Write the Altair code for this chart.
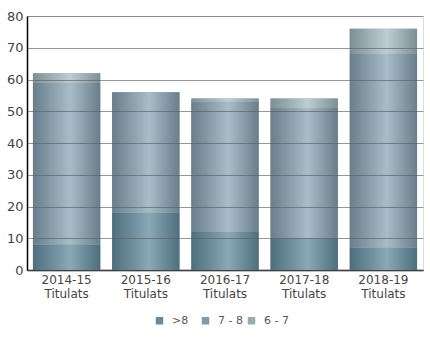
import altair as alt
import pandas as pd

categories = ["2014-15 Titulats", "2015-16 Titulats", "2016-17 Titulats", "2017-18 Titulats", "2018-19 Titulats"]
series = [">8", "7 - 8", "6 - 7"]
v_gt8 = [8, 18, 12, 10, 7]
v_78 = [51, 38, 41, 41, 61]
v_67 = [3, 0, 1, 3, 8]
y_ticks = [0, 10, 20, 30, 40, 50, 60, 70, 80]

edge_colors = ["#4e6e7e", "#687e8a", "#7d8f96"]
center_colors = ["#8aa8b6", "#a8bdc9", "#bccdd3"]
legend_colors = ["#6a8a99", "#8499a5", "#9aabb2"]

rows = []
for i, c in enumerate(categories):
    for s, vals in zip(series, [v_gt8, v_78, v_67]):
        rows.append({"cat": c, "series": s, "value": vals[i], "order": series.index(s)})
df = pd.DataFrame(rows)

FONT = "DejaVu Sans"

x_enc = alt.X("cat:N", sort=categories, title=None,
              scale=alt.Scale(paddingInner=0.15, paddingOuter=0.075),
              axis=alt.Axis(labelExpr="split(datum.label, ' ')", labelAngle=0,
                            labelFont=FONT, labelFontSize=12, labelColor="#444",
                            domainColor="#000", domainWidth=1.5, ticks=False,
                            labelPadding=4, labelLineHeight=14))
y_enc = alt.Y("y0:Q", scale=alt.Scale(domain=[0, 80], nice=False), title=None,
              axis=alt.Axis(values=y_ticks, labelFont=FONT, labelFontSize=13,
                            labelColor="#444", domainColor="#000", domainWidth=1.5,
                            ticks=False, gridColor="#606060", gridOpacity=0.65,
                            zindex=1, labelPadding=4))

base = alt.Chart(df).transform_stack(
    stack="value", groupby=["cat"], sort=[alt.SortField("order")], as_=["y0", "y1"]
)

legend_layer = base.mark_bar().encode(
    x=x_enc, y=y_enc, y2="y1:Q",
    color=alt.Color("series:N", scale=alt.Scale(domain=series, range=legend_colors),
                    sort=series,
                    legend=alt.Legend(title=None, orient="none", direction="horizontal",
                                      legendX=127, legendY=299, symbolType="square",
                                      symbolSize=56, symbolStrokeWidth=0,
                                      labelFont=FONT, labelFontSize=11, labelColor="#555",
                                      labelOffset=7, columnPadding=3, gridAlign="all")),
)

layers = [legend_layer]
for s, e, c in zip(series, edge_colors, center_colors):
    grad = alt.Gradient(
        gradient="linear", x1=0, x2=1, y1=0, y2=0,
        stops=[alt.GradientStop(color=e, offset=0),
               alt.GradientStop(color=c, offset=0.55),
               alt.GradientStop(color=e, offset=1)])
    layers.append(
        base.transform_filter(alt.datum.series == s).mark_bar(fill=grad).encode(
            x=x_enc, y=y_enc, y2="y1:Q"))

chart = alt.layer(*layers).properties(
    width=396, height=254,
    autosize=alt.AutoSizeParams(type="none"),
    padding={"left": 27, "top": 16, "right": 7, "bottom": 78},
).configure_view(stroke="#888", strokeWidth=1.5).configure(background="white")

chart.save("out.html", embed_options={"renderer": "svg", "actions": False})
